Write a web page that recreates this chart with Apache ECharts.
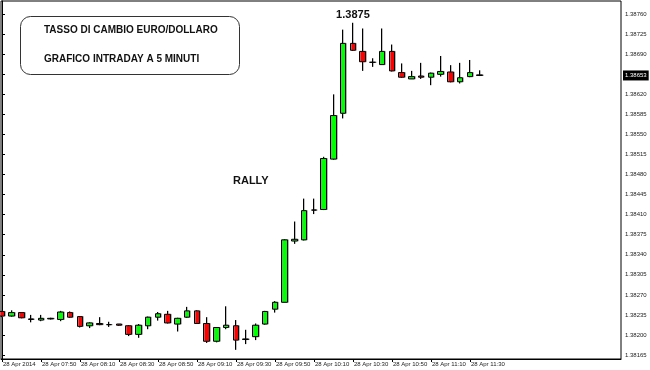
<!DOCTYPE html>
<html>
<head>
<meta charset="utf-8">
<script src="https://cdn.jsdelivr.net/npm/echarts@6/dist/echarts.min.js"></script>
<style>html,body{margin:0;padding:0;background:#fff}#c{width:650px;height:370px}</style>
</head>
<body>
<div id="c"></div>
<script>
// 5-minute candles, 28 Apr 2014
var times = ['07:30','07:35','07:40','07:45','07:50','07:55','08:00','08:05','08:10','08:15',
  '08:20','08:25','08:30','08:35','08:40','08:45','08:50','08:55','09:00','09:05',
  '09:10','09:15','09:20','09:25','09:30','09:35','09:40','09:45','09:50','09:55',
  '10:00','10:05','10:10','10:15','10:20','10:25','10:30','10:35','10:40','10:45',
  '10:50','10:55','11:00','11:05','11:10','11:15','11:20','11:25','11:30','11:35'];
var open = [1.38241,1.38233,1.38239,1.38228,1.38226,1.38228,1.38227,1.38239,1.38232,1.38216,
  1.38220,1.38218,1.38219,1.38216,1.38201,1.38216,1.38231,1.38236,1.38219,1.38231,
  1.38242,1.38220,1.38189,1.38213,1.38216,1.38192,1.38197,1.38219,1.38245,1.38257,
  1.38364,1.38366,1.38418,1.38419,1.38507,1.38587,1.38709,1.38695,1.38676,1.38672,
  1.38695,1.38658,1.38647,1.38652,1.38650,1.38655,1.38659,1.38642,1.38651,1.38654];
var close = [1.38233,1.38239,1.38230,1.38227,1.38229,1.38229,1.38240,1.38231,1.38215,1.38221,
  1.38218,1.38218,1.38217,1.38201,1.38217,1.38231,1.38237,1.38221,1.38229,1.38242,
  1.38220,1.38189,1.38213,1.38217,1.38191,1.38193,1.38217,1.38241,1.38257,1.38366,
  1.38367,1.38417,1.38418,1.38508,1.38583,1.38709,1.38697,1.38677,1.38676,1.38695,
  1.38661,1.38650,1.38651,1.38650,1.38657,1.38660,1.38642,1.38649,1.38658,1.38653];
var low = [1.38231,1.38232,1.38229,1.38222,1.38224,1.38227,1.38224,1.38230,1.38213,1.38212,
  1.38217,1.38214,1.38216,1.38198,1.38195,1.38210,1.38225,1.38220,1.38206,1.38230,
  1.38220,1.38186,1.38187,1.38210,1.38174,1.38184,1.38191,1.38218,1.38239,1.38257,
  1.38359,1.38365,1.38411,1.38418,1.38506,1.38578,1.38696,1.38661,1.38668,1.38672,
  1.38660,1.38649,1.38647,1.38647,1.38636,1.38651,1.38641,1.38639,1.38650,1.38652];
var high = [1.38242,1.38243,1.38239,1.38235,1.38235,1.38230,1.38242,1.38241,1.38233,1.38222,
  1.38231,1.38223,1.38219,1.38217,1.38219,1.38232,1.38240,1.38242,1.38230,1.38249,
  1.38243,1.38231,1.38213,1.38250,1.38226,1.38209,1.38220,1.38242,1.38259,1.38367,
  1.38398,1.38438,1.38438,1.38511,1.38620,1.38733,1.38745,1.38735,1.38683,1.38735,
  1.38707,1.38674,1.38661,1.38675,1.38658,1.38687,1.38671,1.38675,1.38680,1.38662];
var dateLabel = '28 Apr';
var yearLabel = '28 Apr 2014';
var xTickTimes = ['07:30','07:50','08:10','08:30','08:50','09:10','09:30','09:50','10:10','10:30','10:50','11:10','11:30'];
var yTicks = [1.38165,1.38200,1.38235,1.38270,1.38305,1.38340,1.38375,1.38410,1.38445,1.38480,
  1.38515,1.38550,1.38585,1.38620,1.38655,1.38690,1.38725,1.38760];
var lastPrice = 1.38653;
var peakLabel = '1.3875';
var peakIndex = 36;

var candles = times.map(function (t, i) { return [i, open[i], close[i], low[i], high[i]]; });
var xTickIdx = xTickTimes.map(function (t) { return times.indexOf(t); });
// hide tick label that would overlap the last-price box
var yTicksShown = yTicks.filter(function (v) { return Math.abs(v - lastPrice) > 0.00012; });

var chart = echarts.init(document.getElementById('c'), null, {renderer: 'canvas'});
var small = '"Liberation Sans",Arial,sans-serif';
chart.setOption({
  animation: false,
  backgroundColor: '#ffffff',
  grid: {left: 1, top: 1, right: 29, bottom: 11, show: true, borderColor: '#000', borderWidth: 1, backgroundColor: '#fff'},
  xAxis: {
    type: 'value', min: -0.1, max: 63.5,
    splitLine: {show: false},
    axisLine: {show: true, onZero: false, lineStyle: {color: '#000', width: 1}},
    axisTick: {show: true, length: 3, customValues: xTickIdx, lineStyle: {color: '#000'}},
    axisLabel: {
      customValues: xTickIdx, align: 'left', margin: 2, fontSize: 6, color: '#222',
      fontFamily: small, padding: [0, 0, 0, 1], hideOverlap: false,
      formatter: function (v) { var i = Math.round(v); return i === 0 ? yearLabel : dateLabel + ' ' + times[i]; }
    }
  },
  yAxis: {
    type: 'value', position: 'right', min: 1.38158, max: 1.38783,
    splitLine: {show: false},
    axisLine: {show: true, lineStyle: {color: '#000', width: 1}},
    axisTick: {show: true, length: 3, customValues: yTicks, lineStyle: {color: '#000'}},
    axisLabel: {customValues: yTicksShown, margin: 4, fontSize: 6, color: '#222', fontFamily: small,
      formatter: function (v) { return v.toFixed(5); }}
  },
  series: [{
    type: 'candlestick',
    data: candles,
    encode: {x: 0, y: [1, 2, 3, 4]},
    barWidth: 6,
    clip: true,
    itemStyle: {
      color: '#00ff00', color0: '#ff0000', borderColor: '#000', borderColor0: '#000', borderWidth: 1,
      shadowColor: 'rgba(150,150,150,0.6)', shadowBlur: 0, shadowOffsetX: 1, shadowOffsetY: 0
    },
    markPoint: {
      silent: true, symbol: 'circle', symbolSize: 0,
      label: {show: true, position: 'top', distance: 2, formatter: peakLabel, color: '#111',
        fontWeight: 'bold', fontSize: 11, fontFamily: '"Liberation Sans",Arial,sans-serif'},
      data: [{coord: [peakIndex, high[peakIndex]]}]
    }
  }],
  graphic: [
    {type: 'rect', left: 20, top: 16, shape: {width: 219, height: 58, r: 10},
      style: {fill: '#fff', stroke: '#333', lineWidth: 1}, z: 100},
    {type: 'text', left: 44, top: 25, z: 101,
      style: {text: 'TASSO DI CAMBIO EURO/DOLLARO', fill: '#111', font: 'bold 10px "Liberation Sans",Arial,sans-serif'}},
    {type: 'text', left: 44, top: 54, z: 101,
      style: {text: 'GRAFICO INTRADAY A 5 MINUTI', fill: '#111', font: 'bold 10px "Liberation Sans",Arial,sans-serif'}},
    {type: 'text', left: 233, top: 175, z: 101,
      style: {text: 'RALLY', fill: '#111', font: 'bold 11px "Liberation Sans",Arial,sans-serif'}}
  ]
});

// last-price marker on the price scale, placed through the axis scale
var yPix = chart.convertToPixel({yAxisIndex: 0}, lastPrice);
var gridRight = chart.convertToPixel({xAxisIndex: 0}, 63.5);
chart.setOption({
  graphic: [{
    type: 'text', id: 'lastPrice', x: gridRight + 2, y: yPix, z: 120,
    style: {text: lastPrice.toFixed(5), fill: '#fff', backgroundColor: '#000',
      font: '6px "Liberation Sans",Arial,sans-serif', padding: [2, 2, 2, 2],
      verticalAlign: 'middle', align: 'left'}
  }]
});
</script>
</body>
</html>
